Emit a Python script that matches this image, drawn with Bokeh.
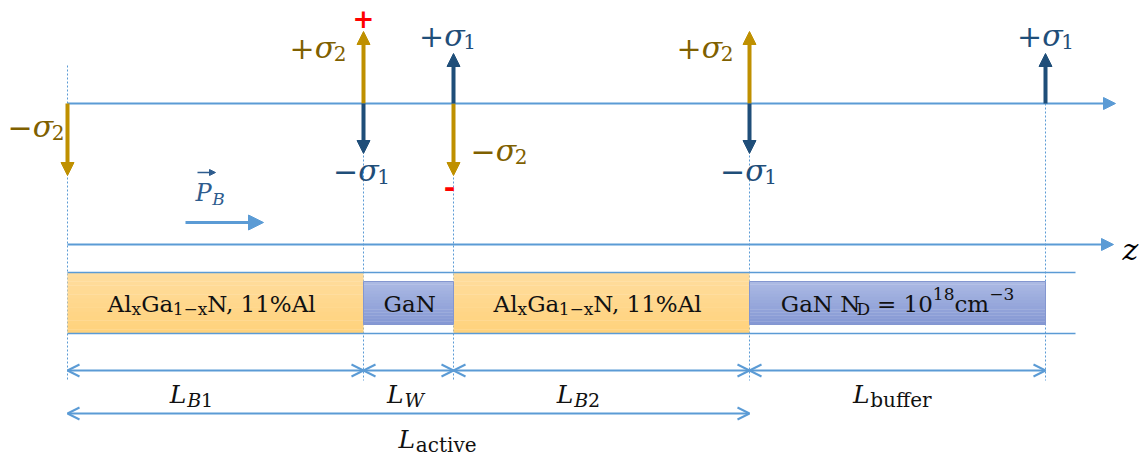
from bokeh.plotting import figure
from bokeh.models import Range1d, ColumnDataSource, Arrow, NormalHead, OpenHead
from bokeh.core.properties import value
from bokeh.embed import file_html
from bokeh.resources import INLINE

# ---------------- data ----------------
layer_kind = ["AlGaN", "GaN", "AlGaN", "GaN"]
layer_thickness = [296, 90, 296, 296]           # drawn lengths along z
length_main = ["L", "L", "L", "L"]
length_sub = ["B1", "W", "B2", "buffer"]
sigma2_sign = [-1, 1, -1, 1, 0]                 # gold charges at each interface
sigma1_sign = [0, -1, 1, -1, 1]                 # navy charges at each interface
sigma2_len = 72
sigma1_len = 50

# ---------------- styles ----------------
FONT = "DejaVu Serif"
GOLD = "#BF9000"
GOLD_T = "#7F6000"
NAVY = "#1F4E79"
LBLUE = "#5B9BD5"
RED = "#FF0000"
PB_C = "#2E5C8E"

interfaces = [0]
for t in layer_thickness:
    interfaces.append(interfaces[-1] + t)

OFF = 67        # screen x of z = 0
AX_Y = 103      # upper charge axis
Z_Y = 244       # lower z axis
BAND_T, BAND_B = 272, 333
GAN_T, GAN_B = 281, 324
DIM_Y = 370
ACT_Y = 413

p = figure(width=1143, height=462, x_range=Range1d(-OFF, 1143 - OFF), y_range=Range1d(462, 0),
           output_backend="svg", toolbar_location=None, min_border=0)
p.axis.visible = False
p.grid.visible = False
p.outline_line_color = None
p.background_fill_color = "white"
p.border_fill_color = "white"

# dashed vertical guides
guide_top = []
for i, z in enumerate(interfaces):
    if i == 0:
        guide_top.append(65)
    elif sigma1_sign[i] < 0:
        guide_top.append(AX_Y + sigma1_len + 2)
    elif sigma2_sign[i] < 0:
        guide_top.append(AX_Y + sigma2_len + 2)
    else:
        guide_top.append(AX_Y)
p.segment(x0=interfaces, y0=guide_top, x1=interfaces, y1=[380] * len(interfaces),
          line_color=LBLUE, line_width=1, line_dash="2 2")

# layer boxes with gradient strips
def lerp(c1, c2, t):
    a = [int(c1[i:i + 2], 16) for i in (1, 3, 5)]
    b = [int(c2[i:i + 2], 16) for i in (1, 3, 5)]
    return "#%02x%02x%02x" % tuple(int(round(a[k] + (b[k] - a[k]) * t)) for k in range(3))

L, R, T, B, C = [], [], [], [], []
N = 14
for i, kind in enumerate(layer_kind):
    x0, x1 = interfaces[i], interfaces[i + 1]
    if kind == "AlGaN":
        top, bot, c1, c2 = BAND_T, BAND_B, "#FFDD9E", "#FFD27C"
    else:
        top, bot, c1, c2 = GAN_T, GAN_B, "#ABB9E3", "#8598D4"
    h = (bot - top) / N
    for k in range(N):
        L.append(x0); R.append(x1)
        T.append(top + k * h); B.append(top + (k + 1) * h + 0.3)
        C.append(lerp(c1, c2, k / (N - 1)))
p.quad(left=L, right=R, top=T, bottom=B, fill_color=C, line_color=None)
gan_i = [i for i, k in enumerate(layer_kind) if k == "GaN"]
p.quad(left=[interfaces[i] for i in gan_i], right=[interfaces[i + 1] for i in gan_i],
       top=[GAN_T] * len(gan_i), bottom=[GAN_B] * len(gan_i),
       fill_color=None, line_color="#8497D0", line_width=1)
p.segment(x0=[0, 0], y0=[BAND_T, BAND_B], x1=[1008, 1008], y1=[BAND_T, BAND_B],
          line_color=LBLUE, line_width=1.5)

# axes arrows
p.add_layout(Arrow(x_start=0, y_start=AX_Y, x_end=1048, y_end=AX_Y, line_color=LBLUE, line_width=2,
                   end=NormalHead(size=12, fill_color=LBLUE, line_color=LBLUE)))
p.add_layout(Arrow(x_start=0, y_start=Z_Y, x_end=1046, y_end=Z_Y, line_color=LBLUE, line_width=2,
                   end=NormalHead(size=12, fill_color=LBLUE, line_color=LBLUE)))

# P_B arrow
p.add_layout(Arrow(x_start=118, y_start=222, x_end=196, y_end=222, line_color=LBLUE, line_width=3,
                   end=NormalHead(size=15, fill_color=LBLUE, line_color=LBLUE)))
p.add_layout(Arrow(x_start=130, y_start=172, x_end=148, y_end=172, line_color=PB_C, line_width=1.5,
                   end=NormalHead(size=6, fill_color=PB_C, line_color=PB_C)))

# charge arrows
def charge_arrows(signs, length, color):
    xs, ys, xe, ye = [], [], [], []
    for z, s in zip(interfaces, signs):
        if s == 0:
            continue
        xs.append(z); ys.append(AX_Y); xe.append(z); ye.append(AX_Y - s * length)
    src = ColumnDataSource(dict(x_start=xs, y_start=ys, x_end=xe, y_end=ye))
    p.add_layout(Arrow(x_start="x_start", y_start="y_start", x_end="x_end", y_end="y_end", source=src,
                       line_color=color, line_width=4,
                       end=NormalHead(size=13, fill_color=color, line_color=color, line_width=1)))

charge_arrows(sigma2_sign, sigma2_len, GOLD)
charge_arrows(sigma1_sign, sigma1_len, NAVY)

# dimension arrows
ds = ColumnDataSource(dict(x_start=interfaces[:-1], x_end=interfaces[1:],
                           y_start=[DIM_Y] * 4, y_end=[DIM_Y] * 4))
p.add_layout(Arrow(x_start="x_start", y_start="y_start", x_end="x_end", y_end="y_end", source=ds,
                   line_color=LBLUE, line_width=2,
                   start=OpenHead(size=12, line_color=LBLUE, line_width=2),
                   end=OpenHead(size=12, line_color=LBLUE, line_width=2)))
p.add_layout(Arrow(x_start=0, y_start=ACT_Y, x_end=interfaces[3], y_end=ACT_Y,
                   line_color=LBLUE, line_width=2,
                   start=OpenHead(size=12, line_color=LBLUE, line_width=2),
                   end=OpenHead(size=12, line_color=LBLUE, line_width=2)))

# ---------------- rich text ----------------
CW = {' ': .318, ',': .318, '%': .950, '+': .838, '=': .838, '\u2212': .838, '-': .348,
      'A': .722, 'B': .735, 'D': .802, 'G': .775, 'L': .694, 'N': .799, 'P': .703, 'W': 1.029,
      'a': .596, 'b': .640, 'c': .560, 'e': .592, 'f': .370, 'i': .320, 'l': .320, 'm': .948,
      'r': .478, 't': .402, 'u': .644, 'v': .565, 'x': .564, 'z': .525, '\u03c3': .635}
for d in "0123456789":
    CW[d] = .636

rows = dict(x=[], y=[], text=[], size=[], style=[], color=[])

def lab(parts, xpix, y, align, color):
    """parts: (text, px size, style, baseline shift[, gap before]); xpix in screen pixels."""
    parts = [tuple(pt) + (0,) * (5 - len(pt)) for pt in parts]
    ws = [sum(CW.get(ch, .6) for ch in t) * s + g for (t, s, st, dy, g) in parts]
    total = sum(ws)
    if align == "center":
        cx = xpix - total / 2
    elif align == "right":
        cx = xpix - total
    else:
        cx = xpix
    for (t, s, st, dy, g), w in zip(parts, ws):
        rows["x"].append(cx + g - OFF)
        rows["y"].append(y + dy)
        rows["text"].append(t)
        rows["size"].append("%dpx" % s)
        rows["style"].append(st)
        rows["color"].append(color)
        cx += w

def sig(sign, idx):
    return [(sign, 30, "normal", 0), ("\u03c3", 30, "italic", 0), (idx, 20, "normal", 6)]

# sigma labels
lab(sig("\u2212", "2"), 64, 126, "right", GOLD_T)
lab(sig("+", "2"), 346, 47, "right", GOLD_T)
lab(sig("\u2212", "1"), 361, 170, "center", NAVY)
lab(sig("+", "1"), 447, 35, "center", NAVY)
lab(sig("\u2212", "2"), 470, 150, "left", GOLD_T)
lab(sig("+", "2"), 733, 47, "right", GOLD_T)
lab(sig("\u2212", "1"), 748, 170, "center", NAVY)
lab(sig("+", "1"), 1045, 35, "center", NAVY)

# red signs
lab([("+", 26, "bold", 0)], 363, 18, "center", RED)
lab([("-", 28, "bold", 0)], 448, 186, "center", RED)

# P_B
lab([("P", 24, "italic", 0), ("B", 17, "italic", 6)], 195, 192, "left", PB_C)

# z
lab([("z", 30, "italic", 0)], 1122, 249, "left", "#000000")

# layer labels (SVG drops leading spaces, so gaps are explicit)
algan = [("Al", 23, "normal", 0), ("x", 17, "normal", 5), ("Ga", 23, "normal", 0),
         ("1\u2212x", 17, "normal", 5), ("N, 11%Al", 23, "normal", 0)]
gan = [("GaN", 23, "normal", 0)]
buf = [("GaN N", 23, "normal", 0), ("D", 17, "normal", 5), ("= 10", 23, "normal", 0, 7),
       ("18", 17, "normal", -10), ("cm", 23, "normal", 0), ("\u22123", 17, "normal", -10)]
layer_parts = {"AlGaN": algan, "GaN": gan}
for i, kind in enumerate(layer_kind):
    cx = OFF + (interfaces[i] + interfaces[i + 1]) / 2
    parts = buf if i == 3 else layer_parts[kind]
    lab(parts, cx - (4 if kind == "AlGaN" else 0), 303, "center", "#111111")

# length labels
dim_shift = [-24, -3, -23, -5]
for i in range(4):
    cx = OFF + (interfaces[i] + interfaces[i + 1]) / 2 + dim_shift[i]
    sub = length_sub[i]
    if sub in ("B1", "B2"):
        parts = [(length_main[i], 25, "italic", 0), (sub[0], 19, "italic", 5), (sub[1], 19, "normal", 5)]
    elif sub == "W":
        parts = [(length_main[i], 25, "italic", 0), (sub, 19, "italic", 5)]
    else:
        parts = [(length_main[i], 25, "italic", 0), (sub, 20, "normal", 5)]
    lab(parts, cx, 394, "center", "#111111")
lab([("L", 25, "italic", 0), ("active", 20, "normal", 5)], 437, 439, "center", "#111111")

src = ColumnDataSource(rows)
p.text(x="x", y="y", text="text", text_font_size="size", text_font_style="style",
       text_color="color", text_font=value(FONT), text_align="left",
       text_baseline="alphabetic", source=src)

open("out.html", "w").write(file_html(p, INLINE, title="Polarization charges"))
